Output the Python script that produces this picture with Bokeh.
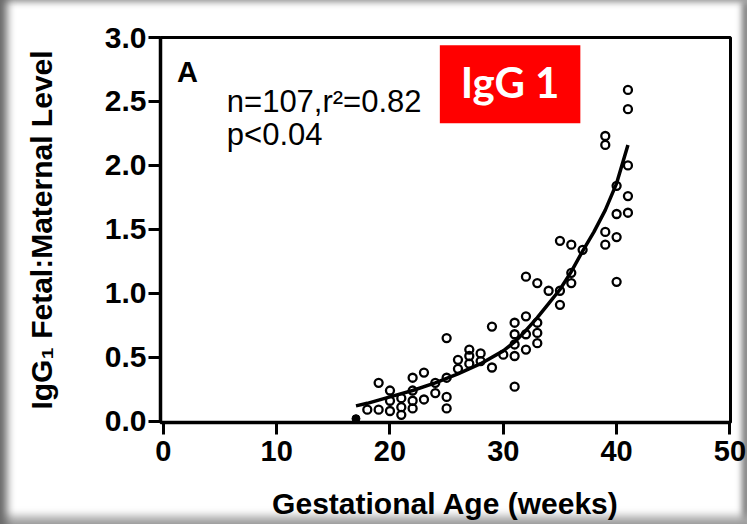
from bokeh.plotting import figure
from bokeh.models import FixedTicker, PrintfTickFormatter, Label, BoxAnnotation, Range1d
from bokeh.embed import file_html
from bokeh.resources import INLINE

# ---- data ----
gest_weeks = [18, 19, 19, 20, 20, 20, 21, 21, 21, 22, 22, 22, 22, 23, 23, 24, 24,
              25, 25, 25, 25, 26, 26, 27, 27, 27, 28, 28, 29, 29, 30,
              31, 31, 31, 31, 31, 32, 32, 32, 32, 33, 33, 33, 33, 34,
              35, 35, 35, 36, 36, 36, 37, 39, 39, 39, 39, 40, 40, 40, 40,
              41, 41, 41, 41, 41]
ratio = [0.09, 0.30, 0.09, 0.24, 0.16, 0.08, 0.18, 0.11, 0.05, 0.34, 0.24, 0.16, 0.10,
         0.38, 0.17, 0.30, 0.22, 0.65, 0.34, 0.19, 0.10, 0.48, 0.41, 0.56, 0.51, 0.45,
         0.53, 0.47, 0.74, 0.42, 0.52, 0.77, 0.68, 0.60, 0.51, 0.27, 1.13, 0.82, 0.68,
         0.56, 1.08, 0.77, 0.69, 0.61, 1.02, 1.41, 1.02, 0.91, 1.38, 1.16, 1.08, 1.34,
         2.23, 2.16, 1.48, 1.38, 1.84, 1.62, 1.44, 1.09, 2.59, 2.44, 2.00, 1.76, 1.63]
filled_weeks = [17]
filled_ratio = [0.02]

fit_weeks = [17, 18, 20, 22, 24, 26, 28, 30, 31, 32, 33, 34, 35, 36, 37, 38, 39, 40, 41]
fit_ratio = [0.12, 0.14, 0.19, 0.24, 0.30, 0.37, 0.45, 0.55, 0.62, 0.71, 0.81, 0.92,
             1.03, 1.17, 1.33, 1.48, 1.65, 1.86, 2.16]

x_ticks = [0, 10, 20, 30, 40, 50]
y_ticks = [0.0, 0.5, 1.0, 1.5, 2.0, 2.5, 3.0]

FONT = "Liberation Sans"

p = figure(width=747, height=524, output_backend="svg", toolbar_location=None,
           x_range=Range1d(-0.25, 50.05), y_range=Range1d(-0.01, 3.0),
           min_border_left=160, min_border_right=17, min_border_top=37,
           min_border_bottom=102)
p.background_fill_color = "white"
p.border_fill_alpha = 0
p.styles = {"box-shadow": ("inset 11px 0 8px -4px #6a6a6a, inset 0 6px 6px -3px #b4b4b4, "
                           "inset 0 -12px 8px -4px #a8a8a8, inset -8px 0 6px -3px #7a7a7a"),
            "background-color": "white"}
p.grid.visible = False
p.outline_line_color = "black"
p.outline_line_width = 3

for ax in (p.xaxis, p.yaxis):
    ax.axis_line_width = 3.5
    ax.axis_line_color = "black"
    ax.major_tick_line_width = 3
    ax.major_tick_in = 0
    ax.major_tick_out = 12
    ax.minor_tick_line_color = None
    ax.major_label_text_font = FONT
    ax.major_label_text_font_style = "bold"
    ax.major_label_text_color = "black"
    ax.axis_label_text_font = FONT
    ax.axis_label_text_font_style = "bold"
    ax.axis_label_text_font_size = "30px"
    ax.axis_label_text_color = "black"

p.xaxis.major_label_text_font_size = "29px"
p.yaxis.major_label_text_font_size = "30px"
p.xaxis.ticker = FixedTicker(ticks=x_ticks)
p.yaxis.ticker = FixedTicker(ticks=y_ticks)
p.yaxis.formatter = PrintfTickFormatter(format="%.1f")
p.xaxis.major_label_standoff = 6
p.yaxis.major_label_standoff = 2
p.xaxis.axis_label = "Gestational Age (weeks)"
p.xaxis.axis_label_standoff = 23
p.yaxis.axis_label = "IgG\u2081 Fetal:Maternal Level"
p.yaxis.axis_label_standoff = 44

# fitted curve
p.line(fit_weeks, fit_ratio, line_color="black", line_width=3.5)
# open circles
p.scatter(gest_weeks, ratio, marker="circle", size=8, line_width=2.3,
          line_color="black", fill_color=None)
p.scatter(filled_weeks, filled_ratio, marker="circle", size=8,
          line_color="black", fill_color="black")

# annotations
p.add_layout(Label(x=1.2, y=2.73, text="A", text_font=FONT, text_font_style="bold",
                   text_font_size="29px", text_color="black", text_baseline="alphabetic"))
p.add_layout(Label(x=5.6, y=2.50, text="n=107,r\u00b2=0.82", text_font=FONT,
                   text_font_size="31px", text_color="black", text_baseline="alphabetic"))
p.add_layout(Label(x=5.6, y=2.24, text="p<0.04", text_font=FONT,
                   text_font_size="31px", text_color="black", text_baseline="alphabetic"))

p.add_layout(BoxAnnotation(left=24.4, right=36.8, bottom=2.33, top=2.94,
                           fill_color="#ff0000", fill_alpha=1.0, line_color=None))
p.add_layout(Label(x=30.6, y=2.655, text="IgG 1", text_font="Lato", text_font_style="bold",
                   text_font_size="42px", text_color="white", text_align="center",
                   text_baseline="middle"))

open("out.html", "w").write(file_html(p, INLINE))
